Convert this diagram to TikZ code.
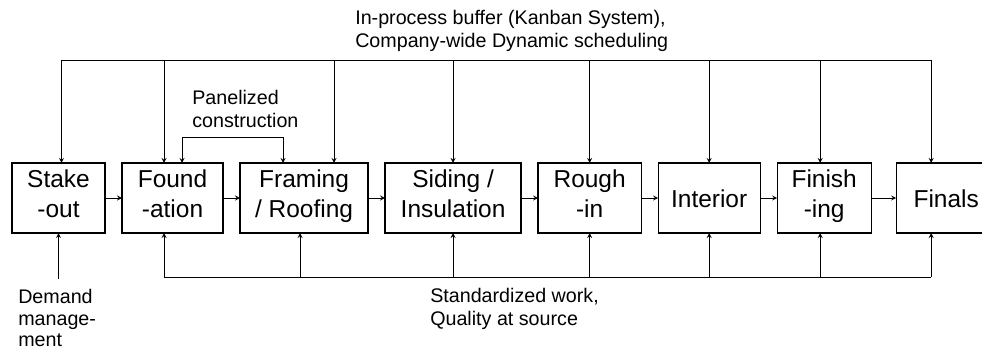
\documentclass[tikz,border=0pt]{standalone}
\usepackage{fontspec}
\setmainfont{Liberation Sans}
\usetikzlibrary{arrows, positioning, calc}
\tikzstyle{stage} = [rectangle, minimum height=1.75cm, text centered, align=center, draw=black, line width=0.9pt, inner sep=2pt, outer sep=0pt, font=\fontsize{17.4}{21.3}\selectfont, execute at begin node={\rule{0pt}{20.5pt}}, execute at end node=\strut]
\tikzstyle{note} = [align=left, inner sep=0pt, font=\fontsize{14}{16.5}\selectfont]
\tikzstyle{arrow} = [line width=0.6pt,->,>=stealth]
\tikzstyle{line} = [line width=0.6pt]

\begin{document}
\begin{tikzpicture}[x=0.025cm, y=-0.025cm, node distance=0.425cm]
\useasboundingbox (0,0) rectangle (982,356);

\node (stake) [stage, minimum width=2.325cm] at (58.5,198) {Stake\\-out};
\node (found) [stage, minimum width=2.525cm, right=of stake] {Found\\-ation};
\node (framing) [stage, minimum width=3.2cm, right=of found] {Framing\\/ Roofing};
\node (siding) [stage, minimum width=3.4cm, right=of framing] {Siding /\\Insulation};
\node (rough) [stage, minimum width=2.575cm, right=of siding] {Rough\\-in};
\node (interior) [stage, minimum width=2.55cm, right=of rough] {Interior};
\node (finish) [stage, minimum width=2.35cm, right=of interior] {Finish\\-ing};
\node (finals) [stage, minimum width=2.5cm, right=0.625cm of finish] {Finals};

\node (buffer) [note, anchor=west] at (355,31) {In-process buffer (Kanban System),\\Company-wide Dynamic scheduling};
\node (panel) [note, anchor=west] at (192,109) {Panelized\\construction};
\node (standard) [note, anchor=west] at (430,309) {Standardized work,\\Quality at source};
\node (demand) [note, anchor=west, font=\fontsize{14}{15}\selectfont] at (18,318) {Demand\\manage-\\ment};

\coordinate (topbus) at (0,60);
\coordinate (botbus) at (0,277);
\coordinate (demandtip) at (58.5,279);

% main flow
\draw [arrow] (stake) -- (found);
\draw [arrow] (found) -- (framing);
\draw [arrow] (framing) -- (siding);
\draw [arrow] (siding) -- (rough);
\draw [arrow] (rough) -- (interior);
\draw [arrow] (interior) -- (finish);
\draw [arrow] (finish) -- (finals);

% buffer / scheduling from above
\draw [line] ($(stake.north |- topbus)+(3,0)$) -- ($(finals.north |- topbus)+(-15,0)$);
\draw [arrow] ($(stake.north |- topbus)+(3,0)$) -- ($(stake.north)+(3,0)$);
\draw [arrow] ($(found.north |- topbus)+(-8.5,0)$) -- ($(found.north)+(-8.5,0)$);
\draw [arrow] ($(framing.north |- topbus)+(30,0)$) -- ($(framing.north)+(30,0)$);
\draw [arrow] (siding.north |- topbus) -- (siding.north);
\draw [arrow] (rough.north |- topbus) -- (rough.north);
\draw [arrow] (interior.north |- topbus) -- (interior.north);
\draw [arrow] ($(finish.north |- topbus)+(-4,0)$) -- ($(finish.north)+(-4,0)$);
\draw [arrow] ($(finals.north |- topbus)+(-15,0)$) -- ($(finals.north)+(-15,0)$);

% panelized construction
\draw [line, <->, >=stealth] ($(found.north)+(9.5,0)$) -- ++(0,-26) -| ($(framing.north)+(-21,0)$);

% standardized work from below
\draw [line] ($(found.south |- botbus)+(-8.5,0)$) -- ($(finals.south |- botbus)+(-15,0)$);
\draw [arrow] ($(found.south |- botbus)+(-8.5,0)$) -- ($(found.south)+(-8.5,0)$);
\draw [arrow] ($(framing.south |- botbus)+(-4,0)$) -- ($(framing.south)+(-4,0)$);
\draw [arrow] (siding.south |- botbus) -- (siding.south);
\draw [arrow] (rough.south |- botbus) -- (rough.south);
\draw [arrow] (interior.south |- botbus) -- (interior.south);
\draw [arrow] ($(finish.south |- botbus)+(-4,0)$) -- ($(finish.south)+(-4,0)$);
\draw [arrow] ($(finals.south |- botbus)+(-15,0)$) -- ($(finals.south)+(-15,0)$);

% demand
\draw [arrow] (demandtip) -- (stake.south);
\end{tikzpicture}
\end{document}
